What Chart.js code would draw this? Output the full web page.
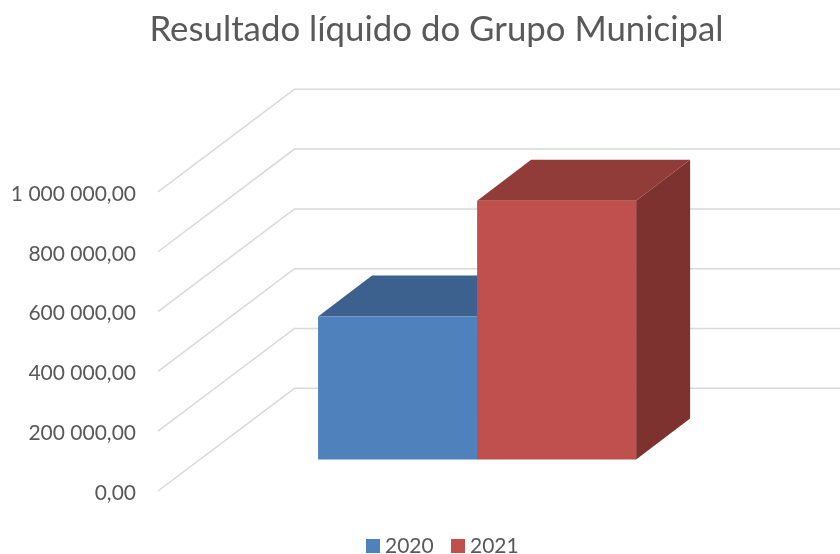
<!DOCTYPE html>
<html>
<head>
<meta charset="utf-8">
<title>Resultado líquido do Grupo Municipal</title>
<script src="https://cdn.jsdelivr.net/npm/chart.js@4"></script>
<style>
  html, body { margin: 0; padding: 0; background: #fff; }
  canvas { display: block; }
</style>
</head>
<body>
<canvas id="grafico" width="840" height="554"></canvas>
<script>
const anos = ['2020', '2021'];
const categorias = [''];
const valores2020 = [478000];
const valores2021 = [865000];
const tickValores = [0, 200000, 400000, 600000, 800000, 1000000];

const coresFrente = ['#4F81BD', '#C0504D'];
const coresTopo = ['#3C618F', '#923C3A'];
const coresLado = ['#345580', '#7D3230'];

// paredes: do plano da frente ate ao fundo
const paredeDx = 136.5;
const paredeDy = -102.7;
// as barras ficam a meio do chao
const barraDx = 40.6;
const barraDy = -31.5;
// profundidade das barras
const fundoDx = 54;
const fundoDy = -41;
// legenda em baixo: quadrado e texto de cada ano
const legendaQuadradoX = [366, 451];
const legendaTextoX = [385, 470];

function face(ctx, pontos, cor) {
    ctx.fillStyle = cor;
    ctx.beginPath();
    pontos.forEach(function(p, i) {
        if (i === 0) ctx.moveTo(p[0], p[1]);
        else ctx.lineTo(p[0], p[1]);
    });
    ctx.closePath();
    ctx.fill();
}

const plugin3d = {
    id: 'plugin3d',
    afterLayout: function(chart) {
        // o titulo e mais largo do que a area do grafico e nao pode ser comprimido
        chart.titleBlock.left -= 40;
        chart.titleBlock.right += 40;
    },
    beforeDatasetsDraw: function(chart) {
        const ctx = chart.ctx;
        const y = chart.scales.y;
        const left = chart.chartArea.left;
        const right = chart.chartArea.right;

        // grelha em perspetiva
        ctx.save();
        ctx.strokeStyle = '#D9D9D9';
        ctx.lineWidth = 1.5;
        tickValores.forEach(function(v) {
            const py = y.getPixelForValue(v);
            ctx.beginPath();
            ctx.moveTo(left, py);
            ctx.lineTo(left + paredeDx, py + paredeDy);
            ctx.lineTo(right + paredeDx, py + paredeDy);
            ctx.stroke();
        });
        ctx.restore();

        // faces de cima e do lado
        ctx.save();
        ctx.translate(barraDx, barraDy);
        chart.data.datasets.forEach(function(ds, i) {
            const bar = chart.getDatasetMeta(i).data[0];
            const x0 = bar.x - bar.width / 2;
            const x1 = bar.x + bar.width / 2;
            const topo = bar.y;
            const base = bar.base;
            face(ctx, [[x0, topo], [x0 + fundoDx, topo + fundoDy], [x1 + fundoDx, topo + fundoDy], [x1, topo]], coresTopo[i]);
            face(ctx, [[x1, topo], [x1 + fundoDx, topo + fundoDy], [x1 + fundoDx, base + fundoDy], [x1, base]], coresLado[i]);
        });
        ctx.restore();

        ctx.save();
        ctx.translate(barraDx, barraDy);
    },
    afterDatasetsDraw: function(chart) {
        chart.ctx.restore();
    },
    afterDraw: function(chart) {
        // o espaco entre quadrado e texto e mais curto do que na legenda do Chart.js
        const ctx = chart.ctx;
        ctx.save();
        ctx.font = '21px Lato';
        ctx.textAlign = 'left';
        ctx.textBaseline = 'alphabetic';
        chart.data.datasets.forEach(function(ds, i) {
            ctx.fillStyle = ds.backgroundColor;
            ctx.fillRect(legendaQuadradoX[i], 539, 14, 14);
            ctx.fillStyle = '#595959';
            ctx.fillText(ds.label, legendaTextoX[i], 552.5);
        });
        ctx.restore();
    }
};

new Chart(document.getElementById('grafico').getContext('2d'), {
    type: 'bar',
    data: {
        labels: categorias,
        datasets: [
            { label: anos[0], data: valores2020, backgroundColor: coresFrente[0], clip: false },
            { label: anos[1], data: valores2021, backgroundColor: coresFrente[1], clip: false }
        ]
    },
    options: {
        responsive: false,
        animation: false,
        barPercentage: 1,
        categoryPercentage: 0.571,
        layout: {
            padding: { top: 0, right: 125, bottom: 0, left: 0 }
        },
        plugins: {
            title: {
                display: true,
                fullSize: false,
                text: 'Resultado líquido do Grupo Municipal',
                color: '#595959',
                font: { family: 'Lato', size: 34.8, weight: 'normal' },
                padding: { top: 9, bottom: 141.2 }
            },
            legend: { display: false },
            tooltip: { enabled: false }
        },
        scales: {
            x: {
                grid: { display: false },
                border: { display: false },
                ticks: { display: false },
                afterFit: function(scale) { scale.height = 63; }
            },
            y: {
                min: 0,
                max: 1000000,
                afterBuildTicks: function(scale) {
                    scale.ticks = tickValores.map(function(v) { return { value: v }; });
                },
                afterFit: function(scale) { scale.width = 158; },
                grid: { display: false },
                border: { display: false },
                ticks: {
                    color: '#595959',
                    padding: 14,
                    labelOffset: 2,
                    font: { family: 'Lato', size: 21 },
                    callback: function(value) {
                        const partes = value.toFixed(2).split('.');
                        return partes[0].replace(/\B(?=(\d{3})+$)/g, ' ') + ',' + partes[1];
                    }
                }
            }
        }
    },
    plugins: [plugin3d]
});
</script>
</body>
</html>
